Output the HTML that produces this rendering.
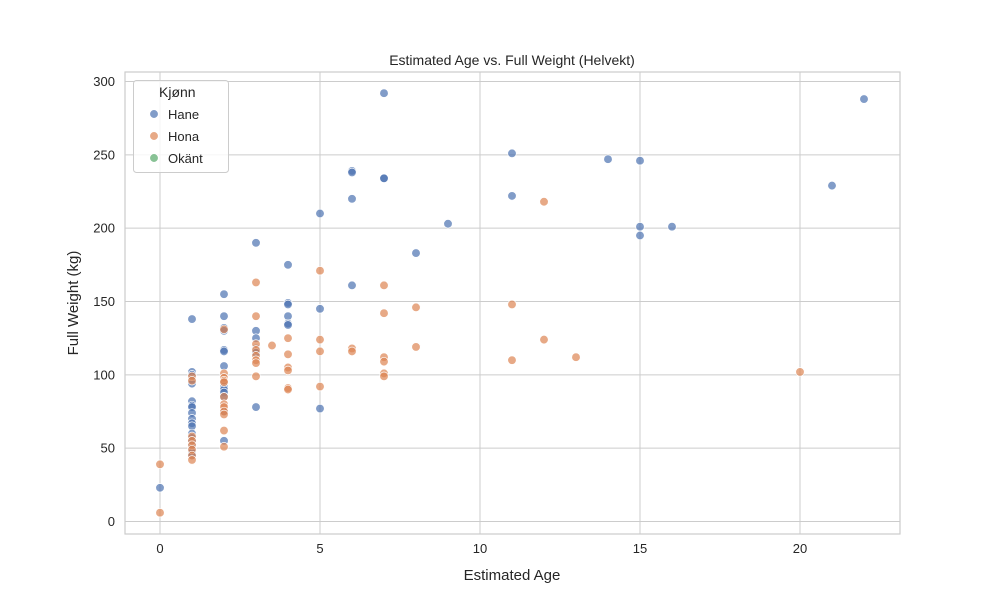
<!DOCTYPE html>
<html><head><meta charset="utf-8"><style>body{margin:0;background:#fff}svg{font-family:"Liberation Sans","DejaVu Sans",sans-serif}</style></head>
<body>
<svg id="c" width="1000" height="600"></svg>
<script>
const categories=["Hane","Hona","Okänt"];
const haneX=[0,1,1,1,1,1,1,1,1,1,1,1,1,1,1,1,1,1,1,1,2,2,2,2,2,2,2,2,2,2,2,2,2,2,3,3,3,3,3,3,3,4,4,4,4,4,4,5,5,5,6,6,6,6,7,7,7,8,9,11,11,14,15,15,15,16,21,22];
const haneY=[23,138,102,100,97,94,82,79,78,74,70,67,65,60,57,55,52,50,47,45,155,140,132,130,117,116,106,95,92,90,88,85,75,55,190,130,125,118,116,115,78,175,149,148,140,135,134,210,145,77,239,238,220,161,292,234,234,183,203,251,222,247,246,201,195,201,229,288];
const honaX=[0,0,1,1,1,1,1,1,1,1,2,2,2,2,2,2,2,2,2,2,2,2,3,3,3,3,3,3,3,3,3.5,4,4,4,4,4,4,5,5,5,5,6,6,7,7,7,7,7,7,8,8,11,11,12,12,13,20];
const honaY=[39,6,99,96,58,55,52,49,45,42,131,101,98,96,95,85,80,78,75,73,62,51,163,140,121,117,113,110,108,99,120,125,114,105,103,91,90,171,124,116,92,118,116,161,142,112,109,101,99,146,119,148,110,218,124,112,102];
const xTicks=[0,5,10,15,20];
const yTicks=[0,50,100,150,200,250,300];
const colors=["#4c72b0","#dd8452","#55a868"];
const L=125,R=900,T=72,B=534;
const sx=v=>160+v*32, sy=v=>521.5-v*1.4667;
const svg=document.getElementById('c');const NS="http://www.w3.org/2000/svg";
function mk(t,a,txt){const e=document.createElementNS(NS,t);for(const k in a)e.setAttribute(k,a[k]);if(txt!=null)e.textContent=txt;svg.appendChild(e);return e;}
let e;
e=mk('rect',{x:L,y:T,width:R-L,height:B-T,fill:'#fff'});


xTicks.forEach(v=>{e=mk('line',{x1:sx(v),x2:sx(v),y1:T,y2:B,stroke:'#cccccc','stroke-width':1});


e=mk('text',{x:sx(v),y:B+19,'text-anchor':'middle','font-size':13,fill:'#262626'},v);

});
yTicks.forEach(v=>{e=mk('line',{x1:L,x2:R,y1:sy(v),y2:sy(v),stroke:'#cccccc','stroke-width':1});


e=mk('text',{x:L-10,y:sy(v)+4.5,'text-anchor':'end','font-size':13,fill:'#262626'},v);

});
e=mk('rect',{x:L,y:T,width:R-L,height:B-T,fill:'none',stroke:'#cccccc','stroke-width':1.2});


function pts(X,Y,c,n){X.forEach((x,i)=>{e=mk('circle',{cx:sx(x),cy:sy(Y[i]),r:4.3,fill:c,'fill-opacity':0.7,stroke:'#fff','stroke-width':0.7});

});}
pts(haneX,haneY,colors[0],'point-hane');
pts(honaX,honaY,colors[1],'point-hona');
e=mk('text',{x:512,y:65,'text-anchor':'middle','font-size':14,fill:'#262626'},'Estimated Age vs. Full Weight (Helvekt)');


e=mk('text',{x:512,y:580,'text-anchor':'middle','font-size':15,fill:'#262626'},'Estimated Age');


e=mk('text',{x:78,y:303,'text-anchor':'middle','font-size':15,fill:'#262626',transform:'rotate(-90 78 303)'},'Full Weight (kg)');


e=mk('rect',{x:133.5,y:80.5,width:95,height:92,rx:3,fill:'#fff','fill-opacity':0.8,stroke:'#cccccc'});


e=mk('text',{x:159,y:97,'font-size':14,fill:'#262626'},'Kjønn');


categories.forEach((c,i)=>{const y=114+i*22;
e=mk('circle',{cx:154,cy:y,r:4.3,fill:colors[i],'fill-opacity':0.7,stroke:'#fff','stroke-width':0.7});


e=mk('text',{x:168,y:y+5,'font-size':13,fill:'#262626'},c);

});
</script>
</body></html>
